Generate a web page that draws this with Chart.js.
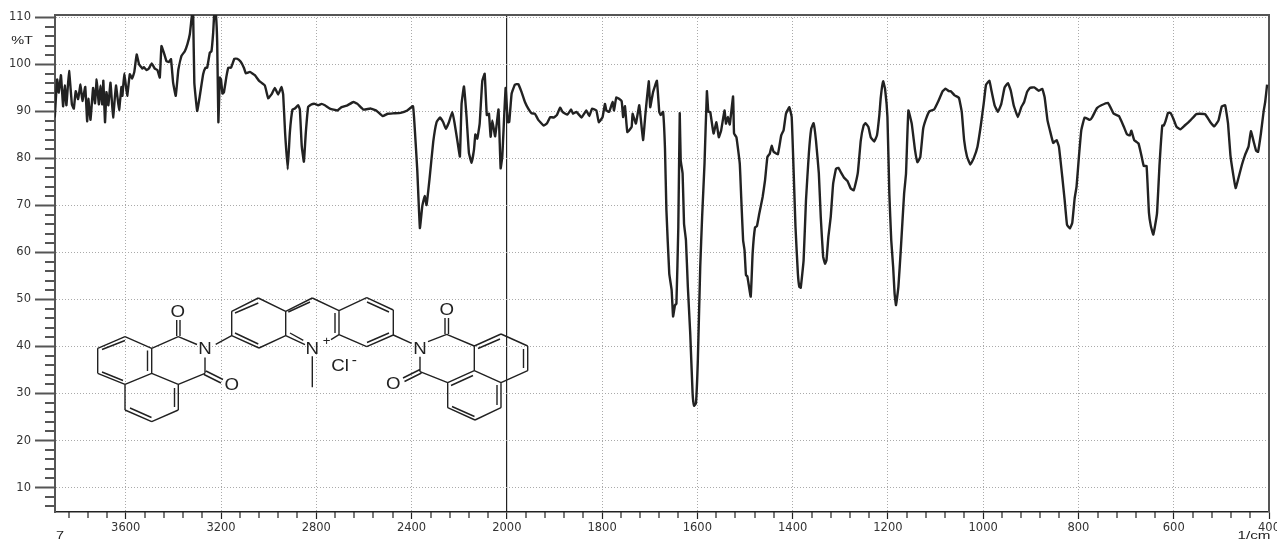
<!DOCTYPE html>
<html>
<head>
<meta charset="utf-8">
<title>IR spectrum</title>
<script src="https://cdn.jsdelivr.net/npm/chart.js@4"></script>
<style>
  html, body { margin: 0; padding: 0; background: #fff; overflow: hidden; }
  canvas { display: block; }
</style>
</head>
<body>
<canvas id="ir-chart" width="1277" height="539"></canvas>
<script>
// Values: wavenumber (1/cm) and transmittance (%T)
const wavenumbers = [
  3898,3888,3881,3872,3863,3856,3849,3838,3826,3818,3810,3800,3790,3782,3770,3762,3757,3748,3737,3729,
  3722,3713,3706,3699,3694,3687,3681,3673,3664,3653,3641,3628,3618,3614,3606,3594,3583,3573,3564,3554,
  3544,3530,3524,3513,3503,3491,3478,3467,3457,3450,3440,3429,3419,3410,3401,3390,3379,3366,3352,3341,
  3331,3324,3320,3317,3312,3300,3289,3275,3265,3258,3247,3240,3233,3228,3222,3216,3211,3205,3200,3194,
  3188,3177,3169,3158,3144,3132,3118,3104,3096,3079,3058,3040,3016,3002,2988,2974,2960,2946,2939,2931,
  2920,2911,2900,2890,2876,2869,2861,2852,2844,2834,2820,2806,2792,2778,2764,2743,
  2711,2694,2669,2644,2627,2602,2571,2546,2521,2500,2474,2446,2418,2394,2387,2376,2365,2355,2345,2337,
  2325,2309,2295,2281,2267,2256,2243,2229,2220,2206,2197,2190,2180,2169,2159,2148,2138,2132,2124,2114,
  2103,2093,2084,2075,2068,2061,2049,2035,2026,2019,2005,
  1998,1995,1990,1983,1976,1969,1962,1955,1948,1941,1934,1923,1916,1909,1902,1895,1888,1883,1873,1865,
  1861,1854,1843,1833,1827,1821,1812,1807,1799,1794,1791,1785,1778,1775,1770,1759,1756,1752,1747,1738,
  1736,1729,1722,1714,1709,1702,1699,1693,1685,
  1680,1677,1672,1668,1665,1659,1654,1651,1647,1644,1640,1637,1635,1631,1628,1624,1620,1615,1610,1607,
  1603,1599,1594,1590,1585,1580,1577,1573,1566,1560,1555,1550,1543,1540,1536,1532,1525,1523,1518,1511,
  1508,1504,1501,1498,1495,1488,1484,1479,1475,1470,1463,1458,1453,1448,1444,1440,1431,1424,1419,1414,
  1407,1402,1398,1394,1389,1386,1383,1377,1372,1366,1361,1356,1351,1345,1341,1336,1332,1329,1325,1320,
  1315,1309,1304,1299,1292,1285,1278,1272,1268,1263,1257,1251,1247,1241,1236,1229,1223,1218,1215,1210,
  1206,1201,1197,1193,1189,1186,1183,1178,1173,1166,1162,1157,1150,1143,1138,1132,1126,1120,1113,1103,
  1094,1085,1079,1072,
  1068,1060,1051,1045,1040,1034,1027,1020,1012,1005,999,994,987,982,976,969,962,955,948,942,
  936,927,920,914,908,902,893,883,876,871,865,860,853,846,841,834,829,824,818,813,
  808,804,799,794,787,776,771,761,752,738,733,726,715,705,698,692,689,683,674,668,
  663,657,652,648,643,640,635,630,624,621,617,612,607,601,594,586,577,565,553,546,
  534,523,515,506,499,492,486,481,475,470,466,457,450,443,438,432,427,423,417,411,408,404
];
const transmittance = [
  88.7,96.8,94,97.7,91.1,95.5,91.3,98.6,91.5,90.6,94.3,92.6,95.7,92.2,95.2,87.9,92.7,88.2,95,91.7,
  96.8,91.5,95.5,91.5,96.5,87.7,94.1,91.3,96.1,88.7,95.5,90.3,95.2,93.3,98.1,93.3,97.9,97,98.4,102.1,
  100,99.1,99.4,98.8,99.1,100.2,99.1,98.8,97.2,103.9,102.5,100.7,100.5,101.1,96.1,93.3,98.9,101.8,102.8,104.3,
  106.4,109.6,111,111,96.1,90.1,93.3,97.9,99.3,99.3,102.5,102.8,106.7,111,111,104.6,87.7,97.2,96.8,93.8,
  94,97.5,99.3,99.3,101.2,101.2,100.6,99.3,98.1,98.4,97.7,96.5,95.5,92.8,93.6,95,93.6,95.2,93.6,85.5,
  77.7,85.5,90.4,90.6,91.3,90.4,82.6,79.3,85.5,91,91.5,91.6,91.3,91.6,91.3,90.6,
  90.2,90.9,91.3,92,91.6,90.4,90.6,90.1,89,89.5,89.6,89.7,90.2,91.1,86.7,77.5,65.2,69.8,72,70.1,
  75.4,83.5,87.7,88.7,87.7,86.3,87.7,89.9,87.7,83.2,80.4,91.6,95.3,88.8,81.1,79.1,81.8,85.1,84.2,87.4,
  96.5,98,89.2,89.5,84.6,88.1,84.7,90.4,77.9,80.4,95,
  87.7,87.7,93.7,95.7,95.8,94.1,92,90.6,89.6,89.5,88.2,87,87.4,88.8,88.7,89.2,90.8,89.9,89.3,90.4,
  89.5,89.9,88.7,90.2,89,90.6,90.2,87.7,88.8,91.6,90.2,89.9,92,90.2,93,92.2,88.8,91.1,85.6,86.7,
  89.5,87.4,91.3,83.9,89.5,96.4,90.9,94.1,96.5,
  89.9,89.2,89.9,82.1,69,55.5,52,46.4,48.8,49.1,65.4,89.6,79.6,76.8,66.1,62.6,52.7,42.8,30,27.4,
  27.9,37.1,56.9,67.6,78.9,94.3,89.9,89.9,85.3,87.7,84.5,86,90.2,87.4,88.8,87.2,93.2,85.3,84.5,78.9,
  71.8,62.6,60.5,55.2,54.9,50.6,59.8,65.3,65.6,68.3,71.8,75.3,80.3,81,82.7,81.4,80.9,84.9,86,89.5,
  90.9,88.8,77.5,65.4,55.5,52.7,52.5,58.3,71.1,81,86.3,87.5,83.8,76.8,67.6,59.1,57.6,58.3,63.3,67.6,
  74.6,77.8,78,77.1,75.9,75.2,73.6,73.2,74.6,77.1,83.8,87,87.5,86.7,84.5,83.6,84.9,89.2,93,96.4,
  94.8,88.8,72.5,62.6,56.9,51.3,48.8,52.7,60.5,72.5,76.8,90.2,87.4,81.7,79.2,80.3,86.3,88.4,90,90.4,
  92.2,94.3,94.8,94.3,
  94.3,93.4,92.9,89.9,83.9,80.4,78.7,80,82.5,87,91.6,95.7,96.5,94.1,91.3,89.9,91.6,95.1,96,94.4,
  91.3,88.8,90.9,92,94.1,95,95.1,94.4,94.8,93,88.1,86,83.3,83.9,82.5,76.1,71.2,65.9,65.1,66.3,
  71.5,74,80.4,86,88.7,88.2,88.8,90.7,91.3,91.8,90.9,89.5,89,86.8,85.1,84.9,85.9,83.9,83.2,80.7,
  78.4,78.4,68.4,65.6,63.8,65.2,68.4,78.3,87,87,88,89.7,89.7,88.5,86.7,86.2,87,88.1,89.4,89.5,
  89.4,87.7,86.8,88.1,91.1,91.3,87.4,80.7,76.5,73.7,75.1,78.6,80.8,82.5,85.8,83.5,81.6,81.4,85.3,90.2,92,95.7
];
const xTickValues = [3600, 3200, 2800, 2400, 2000, 1800, 1600, 1400, 1200, 1000, 800, 600, 400];
const yTickValues = [110, 100, 90, 80, 70, 60, 50, 40, 30, 20, 10];

const xLeft = 3897, xBreak = 2000, xRight = 400;
const axisGrey = "#555";
const labelFont = { family: "'DejaVu Sans'", size: 11.5 };

// The instrument doubles the x scale below 2000 1/cm
const spanUpper = xLeft - xBreak;
const spanTotal = spanUpper + (xBreak - xRight) * 2;
class SpectrumScale extends Chart.LinearScale {
  getPixelForValue(v) {
    const w = v >= xBreak ? xLeft - v : spanUpper + (xBreak - v) * 2;
    return this.getPixelForDecimal(w / spanTotal);
  }
  getValueForPixel(px) {
    const w = this.getDecimalForPixel(px) * spanTotal;
    return w <= spanUpper ? xLeft - w : xBreak - (w - spanUpper) / 2;
  }
}
SpectrumScale.id = "spectrum";
SpectrumScale.defaults = Chart.LinearScale.defaults;
Chart.register(SpectrumScale);

// Minor ticks, top and right frame
const framePlugin = {
  id: "frame",
  beforeDatasetsDraw(chart) {
    const { ctx, chartArea: a, scales } = chart;
    ctx.save();
    ctx.strokeStyle = axisGrey;
    ctx.lineWidth = 2;
    ctx.beginPath();
    for (let t = 6; t < 110; t += 2) {
      if (t % 10 === 0) continue;
      const py = Math.round(scales.y.getPixelForValue(t));
      ctx.moveTo(a.left - 10, py);
      ctx.lineTo(a.left, py);
    }
    ctx.stroke();
    ctx.strokeStyle = "#222";
    ctx.lineWidth = 1.2;
    ctx.beginPath();
    for (let w = 3840; w > 400; w -= w > 2000 ? 80 : 40) {
      if (xTickValues.includes(w)) continue;
      const px = Math.round(scales.x.getPixelForValue(w));
      ctx.moveTo(px, a.bottom);
      ctx.lineTo(px, a.bottom + 6);
    }
    ctx.stroke();
    ctx.strokeStyle = axisGrey;
    ctx.lineWidth = 2;
    ctx.beginPath();
    ctx.moveTo(a.left, a.top);
    ctx.lineTo(a.right, a.top);
    ctx.lineTo(a.right, a.bottom);
    ctx.stroke();
    ctx.restore();
  }
};

// Structure drawn over the plot, in canvas pixels
const bonds = [
  [125,336.7,151.7,348.3],[151.7,348.3,151.7,373.3],[151.7,373.3,125,384.3],[125,384.3,97.7,373.3],[97.7,373.3,97.7,348.3],[97.7,348.3,125,336.7],
  [102,349.5,125,340.5],[147.5,350.5,147.5,371],[102,372,123,380.5],
  [125,384.3,125,410],[125,410,151.7,421.7],[151.7,421.7,178.3,410],[178.3,410,178.3,384.3],[178.3,384.3,151.7,373.3],
  [174.5,388,174.5,407],[130,408,151.5,417.5],
  [151.7,348.3,178.3,336.7],[178.3,336.7,197,344.5],[205,357.5,205,373.3],[205,373.3,178.3,384.3],
  [176.7,336,176.7,320],[180,336,180,320],[206,371,223,379.5],[204,374.5,221,383],
  [215.7,344.3,231.7,335.7],
  [231.7,335.7,231.7,311.3],[231.7,311.3,258.3,298],[258.3,298,285.7,311.3],[285.7,311.3,285.7,335.7],[285.7,335.7,259,348],[259,348,231.7,335.7],
  [235,313,258.3,303],[235,333,258.3,344],
  [285.7,311.3,312.3,298],[288.3,312,310,302],[312.3,298,339,310.7],[285.7,335.7,305,344.7],[290,333,303.3,340.3],
  [339,310.7,339,334.7],[335,313,335,333],[339,334.7,331,339.7],
  [339,310.7,366.7,297.7],[366.7,297.7,393.3,310],[393.3,310,393.3,335],[393.3,335,366.7,346.7],[366.7,346.7,339,334.7],
  [367,302,389,312],[367,342.5,389,333],
  [312.3,356.3,312.3,387.3],
  [393.3,335,411.7,343.3],[428,341.7,446.7,334.3],[420,356.7,420,371.7],
  [445,334,445,318],[448.5,334,448.5,318],[420,369.5,403,378],[421.5,373,404.5,381.5],
  [446.7,334.3,474.3,346],[420,371.7,447.7,382.7],
  [474.3,346,501,334],[501,334,527.7,346],[527.7,346,527.7,370.7],[527.7,370.7,501,382.7],[501,382.7,474.3,370.7],[474.3,370.7,474.3,346],
  [478,348.5,500,339],[523.5,349,523.5,368],
  [501,382.7,501,407.7],[501,407.7,475,420],[475,420,447.7,407.7],[447.7,407.7,447.7,382.7],[447.7,382.7,474.3,370.7],
  [451,385.5,473,375.5],[497,385,497,405],[452,406.5,474.5,416.5]
];
const atomLabels = [
  ["O",177.7,312.3,17],["N",205,349,17],["O",231.7,385.5,17],["N",312.3,349,17],["+",326.7,341.3,12],
  ["Cl",340,366.3,17],["-",354.3,361,14],["O",446.7,310.5,17],["N",420,349,17],["O",393.3,384.5,17]
];
const axisTexts = [["%T",22,41,10,1.45],["7",60,536,10,1.45],["1/cm",1254,536,10.5,1.45]];

function stretchedText(ctx, text, x, y, size, sx) {
  ctx.save();
  ctx.translate(x, y);
  ctx.scale(sx, 1);
  ctx.font = size + "px 'Liberation Sans'";
  ctx.textAlign = "center";
  ctx.textBaseline = "middle";
  ctx.fillText(text, 0, 0);
  ctx.restore();
}

const structurePlugin = {
  id: "structure",
  afterDatasetsDraw(chart) {
    const ctx = chart.ctx;
    ctx.save();
    ctx.strokeStyle = "#222";
    ctx.fillStyle = "#222";
    ctx.lineWidth = 1.4;
    ctx.beginPath();
    bonds.forEach(b => { ctx.moveTo(b[0], b[1]); ctx.lineTo(b[2], b[3]); });
    ctx.stroke();
    atomLabels.forEach(l => stretchedText(ctx, l[0], l[1], l[2], l[3], 1.1));
    axisTexts.forEach(l => stretchedText(ctx, l[0], l[1], l[2], l[3], l[4]));
    ctx.restore();
  }
};

new Chart(document.getElementById("ir-chart"), {
  type: "line",
  data: {
    datasets: [{
      data: wavenumbers.map((w, i) => ({ x: w, y: transmittance[i] })),
      borderColor: "#222",
      borderWidth: 2.4,
      borderJoinStyle: "round",
      pointRadius: 0,
      tension: 0.1,
      fill: false
    }]
  },
  options: {
    responsive: false,
    animation: false,
    layout: { padding: { top: 15, right: 8, left: 0, bottom: 0 } },
    plugins: { legend: { display: false }, tooltip: { enabled: false }, title: { display: false } },
    scales: {
      x: {
        type: "spectrum",
        min: xRight,
        max: xLeft,
        afterFit: s => { s.height = 27; s.paddingLeft = 0; s.paddingRight = 0; },
        afterBuildTicks: s => { s.ticks = xTickValues.map(v => ({ value: v })); },
        border: {
          color: "#222",
          width: 1.5,
          dash: c => (c.tick && c.tick.value === xBreak ? [] : [1, 2])
        },
        grid: {
          color: c => (c.tick && c.tick.value === xBreak ? "#222" : "#aaa"),
          lineWidth: c => (c.tick && c.tick.value === xBreak ? 1.2 : 1),
          tickColor: "#222",
          tickWidth: 1.2,
          tickLength: 7,
          tickBorderDash: []
        },
        ticks: {
          autoSkip: false,
          maxRotation: 0,
          padding: 2,
          color: "#333",
          font: labelFont,
          callback: v => String(v)
        }
      },
      y: {
        min: 4.8,
        max: 110.5,
        afterFit: s => { s.width = 55; },
        afterBuildTicks: s => { s.ticks = yTickValues.map(v => ({ value: v })); },
        border: { color: axisGrey, width: 2, dash: [1, 2] },
        grid: {
          color: "#aaa",
          lineWidth: 1,
          tickColor: axisGrey,
          tickWidth: 2,
          tickLength: 20,
          tickBorderDash: []
        },
        ticks: {
          padding: 4,
          color: "#333",
          font: labelFont,
          callback: v => String(v)
        }
      }
    }
  },
  plugins: [framePlugin, structurePlugin]
});
</script>
</body>
</html>
